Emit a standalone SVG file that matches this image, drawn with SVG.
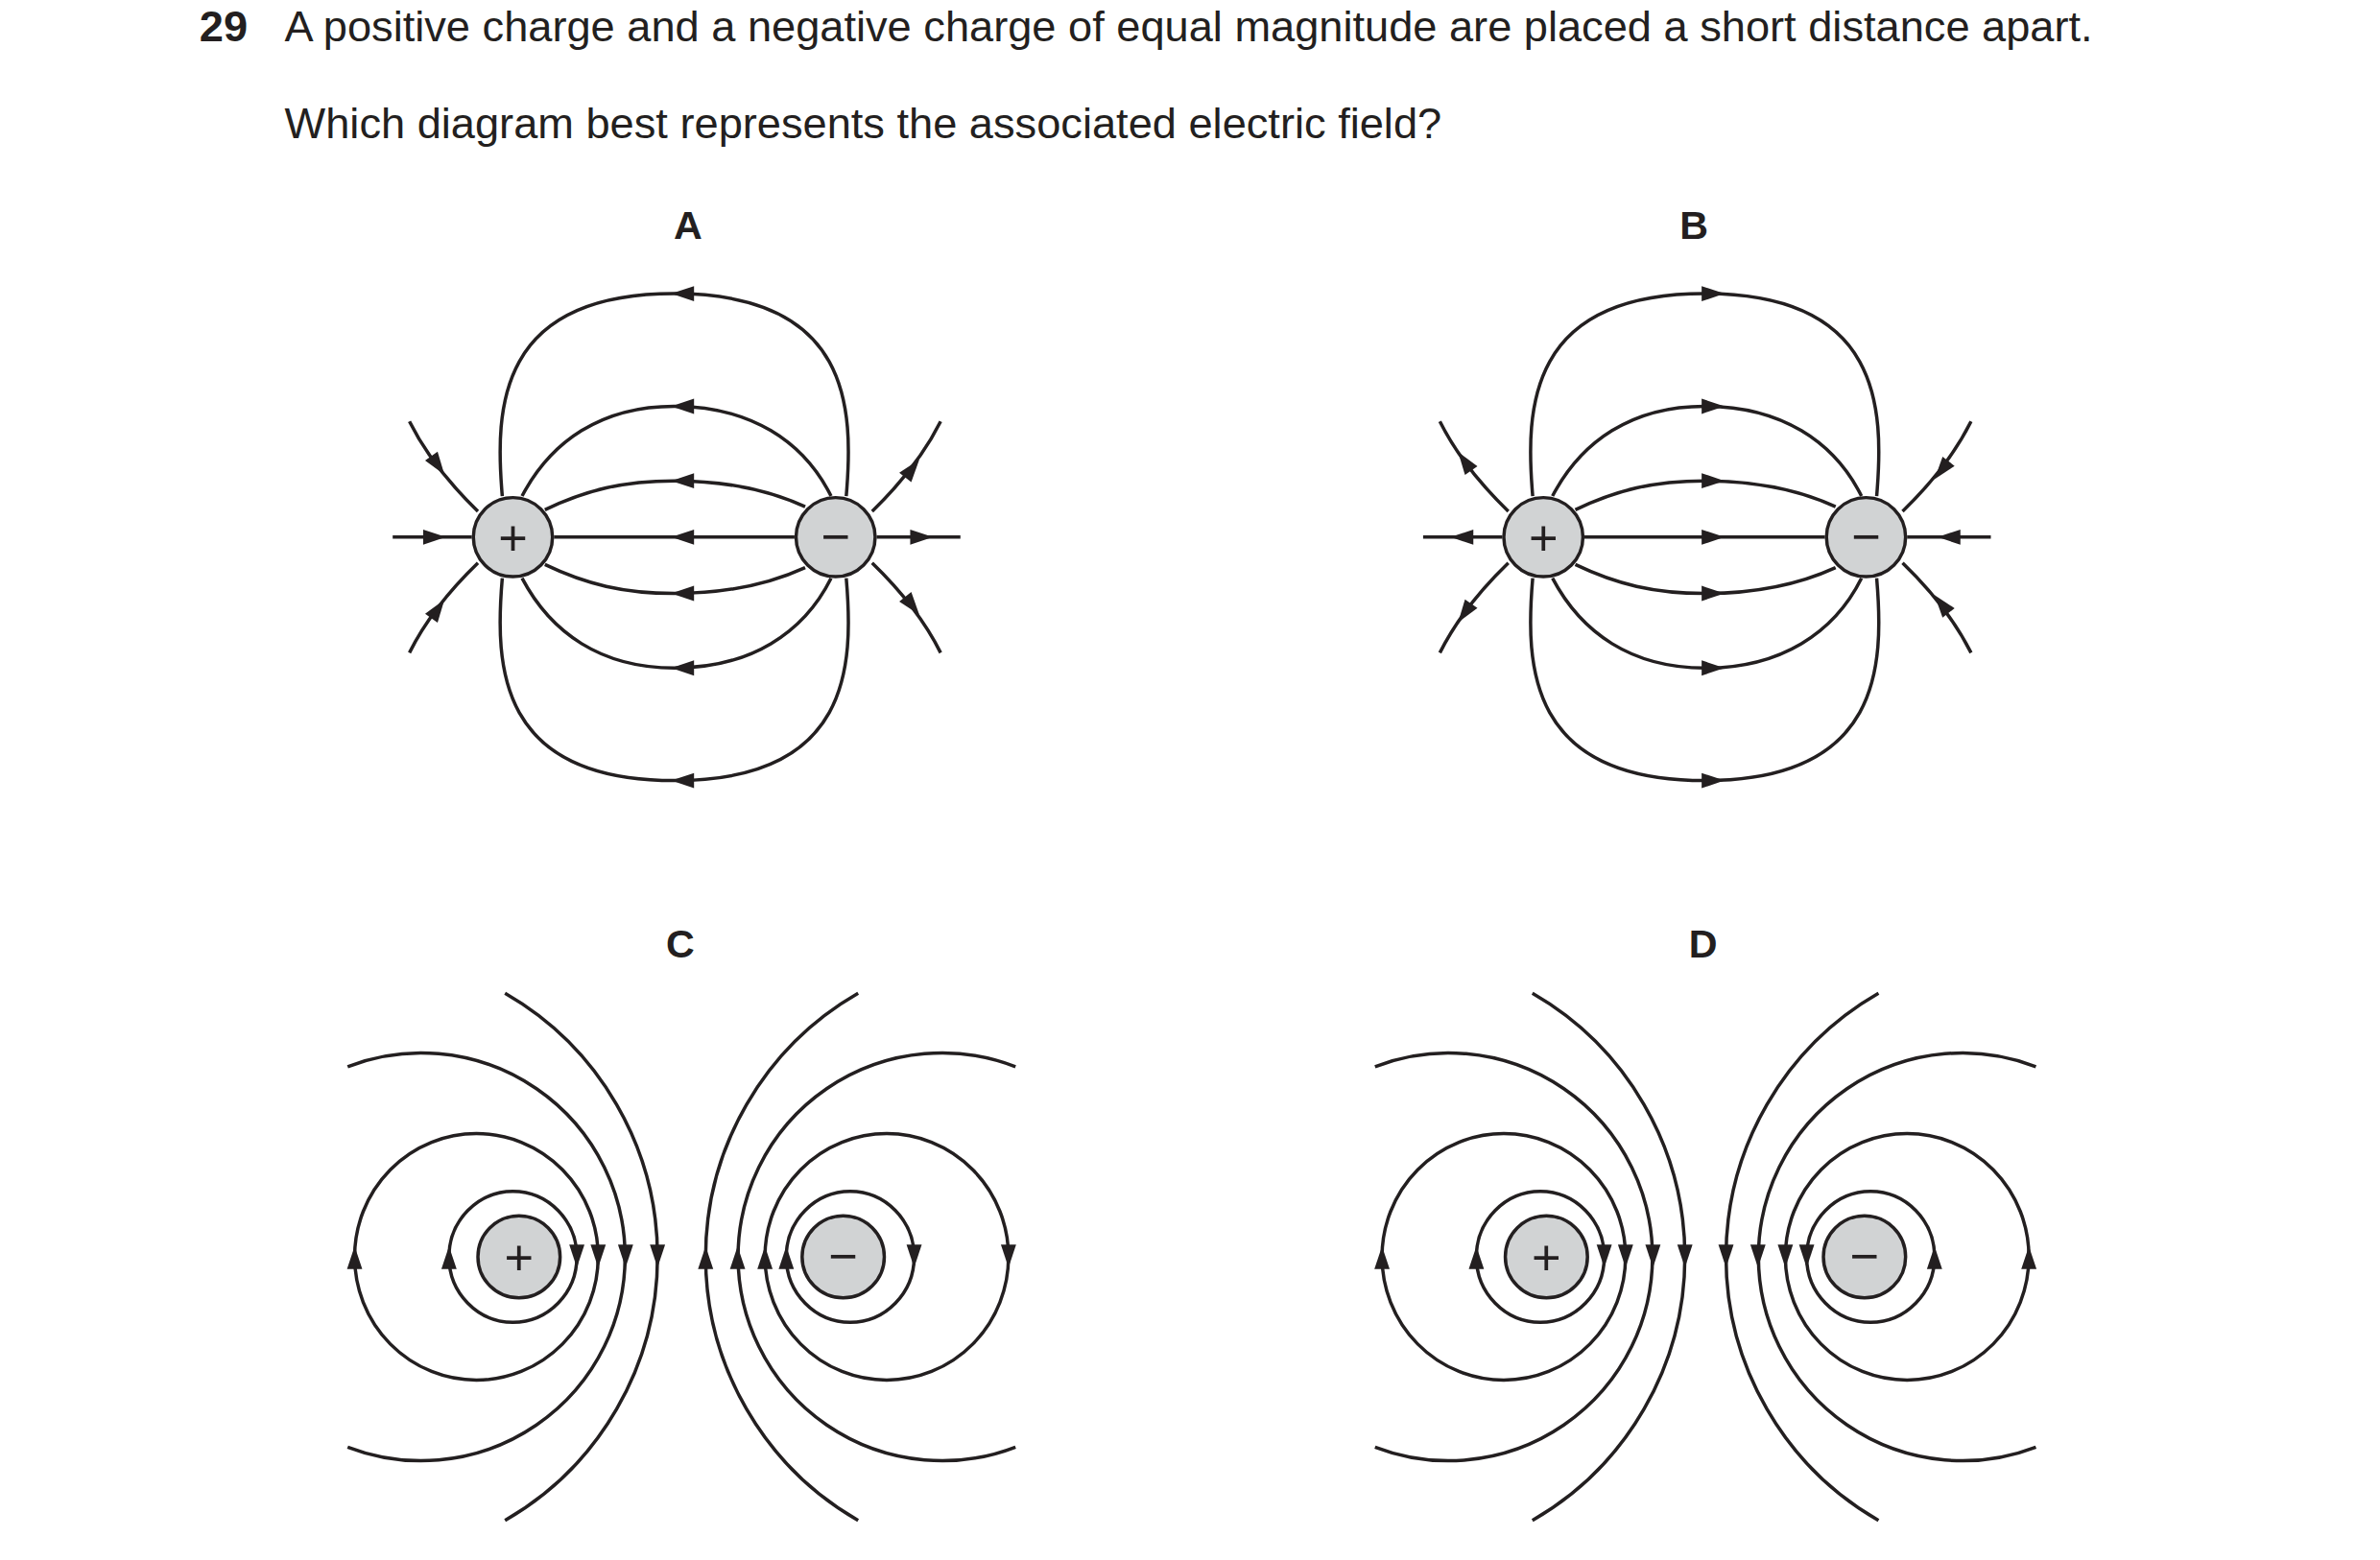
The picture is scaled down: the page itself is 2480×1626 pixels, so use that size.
<svg xmlns="http://www.w3.org/2000/svg" xmlns:xlink="http://www.w3.org/1999/xlink" width="2480" height="1626" viewBox="0 0 2480 1626">
<style>
.ln{fill:none;stroke:#231f20;stroke-width:2.2}
.ch{fill:#d1d3d4;stroke:#231f20;stroke-width:2.2}
.t{font-family:"Liberation Sans",Arial,sans-serif;fill:#231f20}
.sym{font-family:"Liberation Sans",Arial,sans-serif;font-size:33px;fill:#231f20;text-anchor:middle}
.lb{font-family:"Liberation Sans",Arial,sans-serif;font-size:26px;font-weight:bold;fill:#231f20;text-anchor:middle}
</style>
<defs>
<path id="ah" d="M0,0 L-15,-5 L-15,5 Z" fill="#231f20"/>
<g id="aLines" class="ln">
<path d="M330,326 C325,268 327,193 443,193 C559,193 561,268 556,326"/>
<path d="M343,326 C362,290 395,267 443,267 C493,267 528,290 546,326"/>
<path d="M358,335 C385,322 410,316 443,316 C478,316 505,322 529,333"/>
<path d="M364,353 L522,353"/>
<path d="M358,371 C385,384 410,390 443,390 C478,390 505,384 529,373"/>
<path d="M343,380 C362,416 395,439 443,439 C493,439 528,416 546,380"/>
<path d="M330,380 C325,438 327,513 443,513 C559,513 561,438 556,380"/>
<path d="M258,353 L310,353"/>
<path d="M269,277 Q284,307 314,336"/>
<path d="M269,429 Q284,399 314,370"/>
<path d="M576,353 L631,353"/>
<path d="M573,336 Q603,307 618,277"/>
<path d="M573,370 Q603,399 618,429"/>
</g>
<g id="cLeft" class="ln">
<ellipse cx="337" cy="826" rx="42" ry="43"/>
<ellipse cx="313" cy="826" rx="80" ry="81"/>
<path d="M228.4,701 A134,134 0 1 1 228.4,951"/>
<path d="M331.8,652.8 A199.8,199.8 0 0 1 331.8,999.2"/>
</g>
<g id="cLeftArrows">
<use href="#ah" transform="translate(233,819) rotate(-90)"/>
<use href="#ah" transform="translate(295,819) rotate(-90)"/>
<use href="#ah" transform="translate(379,833) rotate(90)"/>
<use href="#ah" transform="translate(393,833) rotate(90)"/>
<use href="#ah" transform="translate(411,833) rotate(90)"/>
<use href="#ah" transform="translate(432,833) rotate(90)"/>
</g>
</defs>
<g transform="scale(1.586)">
<g id="question">
<text class="t" x="131" y="27" font-size="28.5" font-weight="bold">29</text>
<text class="t" x="187" y="27" font-size="28.5">A positive charge and a negative charge of equal magnitude are placed a short distance apart.</text>
<text class="t" x="187" y="91" font-size="28.5">Which diagram best represents the associated electric field?</text>
<text class="lb" x="452" y="157">A</text>
<text class="lb" x="1113" y="157">B</text>
<text class="lb" x="447" y="629">C</text>
<text class="lb" x="1119" y="629">D</text>
</g>
<g id="connectors">
<g id="connA">
<use href="#aLines"/>
<use href="#ah" transform="translate(441,193) rotate(180)"/>
<use href="#ah" transform="translate(441,267) rotate(180)"/>
<use href="#ah" transform="translate(441,316) rotate(180)"/>
<use href="#ah" transform="translate(441,353) rotate(180)"/>
<use href="#ah" transform="translate(441,390) rotate(180)"/>
<use href="#ah" transform="translate(441,439) rotate(180)"/>
<use href="#ah" transform="translate(441,513) rotate(180)"/>
<use href="#ah" transform="translate(293,353)"/>
<use href="#ah" transform="translate(292,312) rotate(55)"/>
<use href="#ah" transform="translate(292,394) rotate(-55)"/>
<use href="#ah" transform="translate(613,353)"/>
<use href="#ah" transform="translate(604,302) rotate(-52)"/>
<use href="#ah" transform="translate(604,404) rotate(52)"/>
</g>
<g id="connB" transform="translate(677,0)">
<use href="#aLines"/>
<use href="#ah" transform="translate(456,193)"/>
<use href="#ah" transform="translate(456,267)"/>
<use href="#ah" transform="translate(456,316)"/>
<use href="#ah" transform="translate(456,353)"/>
<use href="#ah" transform="translate(456,390)"/>
<use href="#ah" transform="translate(456,439)"/>
<use href="#ah" transform="translate(456,513)"/>
<use href="#ah" transform="translate(276,353) rotate(180)"/>
<use href="#ah" transform="translate(281,297) rotate(-125)"/>
<use href="#ah" transform="translate(281,409) rotate(125)"/>
<use href="#ah" transform="translate(596,353) rotate(180)"/>
<use href="#ah" transform="translate(594,315) rotate(128)"/>
<use href="#ah" transform="translate(594,391) rotate(-128)"/>
</g>
<g id="connC">
<use href="#cLeft"/><use href="#cLeftArrows"/>
<g transform="rotate(180,447.8,826)"><use href="#cLeft"/><use href="#cLeftArrows"/></g>
</g>
<g id="connD">
<g transform="translate(675,0)"><use href="#cLeft"/><use href="#cLeftArrows"/></g>
<g transform="translate(1566,0) scale(-1,1)"><use href="#cLeft"/><use href="#cLeftArrows"/></g>
</g>
</g>
<g id="A_plus"><circle class="ch" cx="337" cy="353" r="26"/><text class="sym" x="337" y="365">+</text></g>
<g id="A_minus"><circle class="ch" cx="549" cy="353" r="26"/><text class="sym" x="549" y="364">−</text></g>
<g id="B_plus"><circle class="ch" cx="1014" cy="353" r="26"/><text class="sym" x="1014" y="365">+</text></g>
<g id="B_minus"><circle class="ch" cx="1226" cy="353" r="26"/><text class="sym" x="1226" y="364">−</text></g>
<g id="C_plus"><circle class="ch" cx="341" cy="826" r="27"/><text class="sym" x="341" y="838">+</text></g>
<g id="C_minus"><circle class="ch" cx="554" cy="826" r="27"/><text class="sym" x="554" y="837">−</text></g>
<g id="D_plus"><circle class="ch" cx="1016" cy="826" r="27"/><text class="sym" x="1016" y="838">+</text></g>
<g id="D_minus"><circle class="ch" cx="1225" cy="826" r="27"/><text class="sym" x="1225" y="837">−</text></g>
</g>
</svg>
